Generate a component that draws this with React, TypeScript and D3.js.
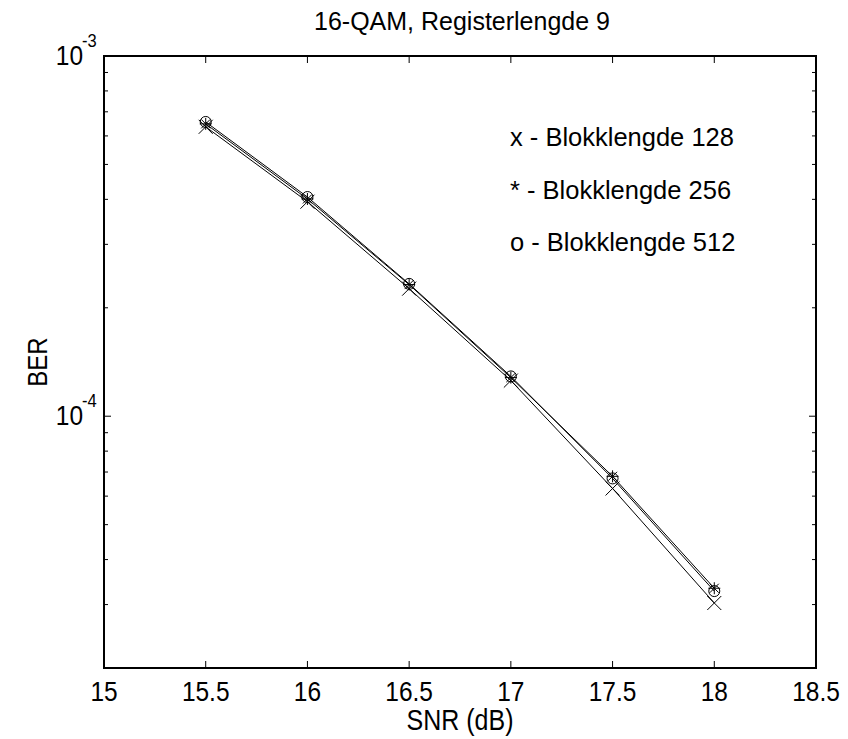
import React from "react";
import * as d3 from "d3";

const snr = [15.5, 16, 16.5, 17, 17.5, 18];
const berBlock128 = [6.36e-4, 3.94e-4, 2.26e-4, 1.256e-4, 6.3e-5, 3.03e-5];
const berBlock256 = [6.48e-4, 4.01e-4, 2.32e-4, 1.28e-4, 6.81e-5, 3.33e-5];
const berBlock512 = [6.56e-4, 4.06e-4, 2.33e-4, 1.29e-4, 6.72e-5, 3.27e-5];
const xTicks = [15, 15.5, 16, 16.5, 17, 17.5, 18, 18.5];
const yMajor = [1e-4, 1e-3];
const legendLines = ["x - Blokklengde 128", "* - Blokklengde 256", "o - Blokklengde 512"];
const titleText = "16-QAM, Registerlengde 9";

const W = 848, H = 739;
const L = 104, R = 816, T = 56, B = 668;
const FONT = "'Liberation Sans', Arial, sans-serif";
const SY = 1.15;

function TallText(props: { x: number; y: number; size: number; sy?: number; anchor?: string; children: React.ReactNode }) {
  const sy = props.sy ?? SY;
  return (
    <text
      transform={`translate(${props.x},${props.y}) scale(1,${sy})`}
      textAnchor={props.anchor || "start"}
      fontSize={props.size}
    >
      {props.children}
    </text>
  );
}

export default function App() {
  const x = d3.scaleLinear().domain([15, 18.5]).range([L, R]);
  const y = d3.scaleLog().domain([2e-5, 1e-3]).range([B, T]);
  const line = d3.line<number>().x((_, i) => x(snr[i])).y((d) => y(d));

  const minor: number[] = [];
  [1e-5, 1e-4].forEach((dec) => {
    for (let k = 2; k <= 9; k++) {
      const v = k * dec;
      if (v >= 2e-5 && v < 1e-3) minor.push(v);
    }
  });

  const series = [
    { vals: berBlock128, m: "x" },
    { vals: berBlock256, m: "*" },
    { vals: berBlock512, m: "o" },
  ];

  const marker = (m: string, cx: number, cy: number, key: string) => {
    if (m === "x") {
      const s = 7;
      return (
        <path key={key} d={`M${cx - s},${cy - s}L${cx + s},${cy + s}M${cx - s},${cy + s}L${cx + s},${cy - s}`} stroke="#000" strokeWidth={1} fill="none" />
      );
    }
    if (m === "*") {
      const s = 6, d = 4.5;
      return (
        <path key={key} d={`M${cx - s},${cy}L${cx + s},${cy}M${cx},${cy - s}L${cx},${cy + s}M${cx - d},${cy - d}L${cx + d},${cy + d}M${cx - d},${cy + d}L${cx + d},${cy - d}`} stroke="#000" strokeWidth={1} fill="none" />
      );
    }
    return <circle key={key} cx={cx} cy={cy} r={5.5} stroke="#000" strokeWidth={1} fill="none" />;
  };

  return (
    <svg width={W} height={H} style={{ position: "absolute", left: 0, top: 0, background: "#fff" }} fontFamily={FONT}>
      <rect x={0} y={0} width={W} height={H} fill="#fff" />
      {xTicks.map((t) => (
        <g key={"xt" + t}>
          <line x1={x(t)} x2={x(t)} y1={B} y2={B - 7} stroke="#000" />
          <line x1={x(t)} x2={x(t)} y1={T} y2={T + 7} stroke="#000" />
          <TallText x={x(t)} y={B + 33} size={24.5} anchor="middle">{String(t)}</TallText>
        </g>
      ))}
      {yMajor.map((t) => (
        <g key={"ym" + t}>
          <line x1={L} x2={L + 7} y1={y(t)} y2={y(t)} stroke="#000" />
          <line x1={R} x2={R - 7} y1={y(t)} y2={y(t)} stroke="#000" />
          <TallText x={83} y={y(t) + 9} size={24.5} anchor="end">10</TallText>
          <TallText x={82} y={y(t) - 9} size={16.5}>{String(Math.round(Math.log10(t)))}</TallText>
        </g>
      ))}
      {minor.map((t) => (
        <g key={"mn" + t}>
          <line x1={L} x2={L + 4} y1={y(t)} y2={y(t)} stroke="#000" />
          <line x1={R} x2={R - 4} y1={y(t)} y2={y(t)} stroke="#000" />
        </g>
      ))}
      {series.map((s, si) => (
        <g key={"s" + si}>
          <path d={line(s.vals) || ""} stroke="#000" strokeWidth={1} fill="none" />
          {s.vals.map((v, i) => marker(s.m, x(snr[i]), y(v), `m${si}-${i}`))}
        </g>
      ))}
      <rect x={L} y={T} width={R - L} height={B - T} fill="none" stroke="#000" strokeWidth={2} />
      {legendLines.map((t, i) => (
        <TallText key={t} x={510} y={146 + i * 52.5} size={25.5} sy={1.02}>{t}</TallText>
      ))}
      <TallText x={(L + R) / 2 + 2} y={30} size={25} sy={1.05} anchor="middle">{titleText}</TallText>
      <TallText x={(L + R) / 2} y={730} size={25} anchor="middle">SNR (dB)</TallText>
      <text transform={`translate(47,${(T + B) / 2}) rotate(-90) scale(1,${SY})`} textAnchor="middle" fontSize={24}>BER</text>
    </svg>
  );
}
